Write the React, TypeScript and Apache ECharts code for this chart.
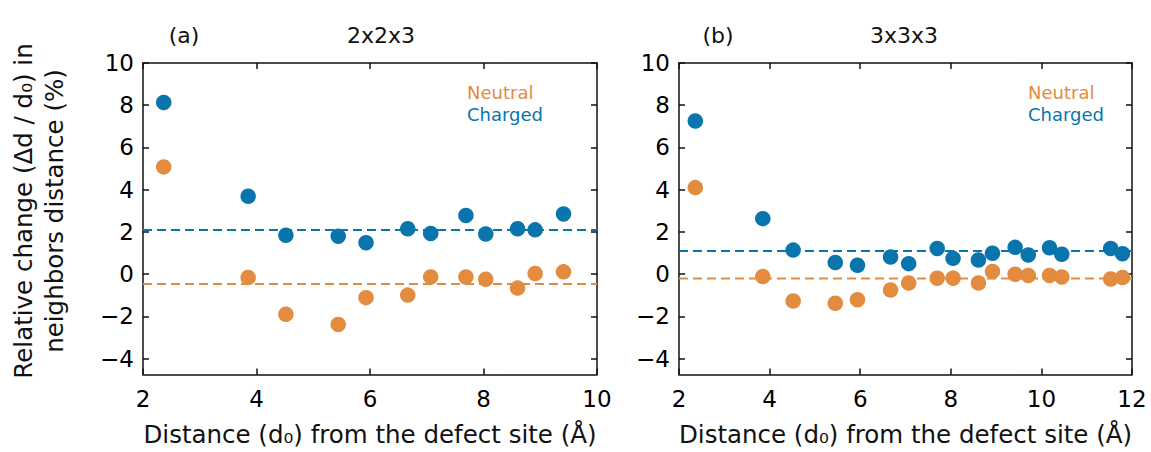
import { useEffect, useRef } from "react";
import * as echarts from "echarts";

// Panel (a): 2x2x3
const distA = [2.365, 3.853, 4.518, 5.44, 5.93, 6.665, 7.07, 7.69, 8.04, 8.6, 8.91, 9.41];
const chargedA = [8.13, 3.69, 1.84, 1.8, 1.49, 2.15, 1.93, 2.78, 1.9, 2.15, 2.1, 2.85];
const neutralA = [5.08, -0.16, -1.9, -2.38, -1.11, -0.99, -0.13, -0.13, -0.24, -0.66, 0.03, 0.11];
const chargedMeanA = 2.09;
const neutralMeanA = -0.47;

// Panel (b): 3x3x3
const distB = [2.36, 3.85, 4.52, 5.45, 5.94, 6.67, 7.07, 7.7, 8.05, 8.61, 8.92, 9.42, 9.71, 10.18, 10.45, 11.53, 11.79];
const chargedB = [7.25, 2.63, 1.14, 0.55, 0.42, 0.81, 0.5, 1.22, 0.75, 0.67, 0.99, 1.27, 0.91, 1.25, 0.94, 1.22, 0.97];
const neutralB = [4.1, -0.11, -1.27, -1.38, -1.21, -0.75, -0.42, -0.19, -0.19, -0.42, 0.13, 0.0, -0.06, -0.06, -0.13, -0.23, -0.16];
const chargedMeanB = 1.1;
const neutralMeanB = -0.2;

const yTicks = [-4, -2, 0, 2, 4, 6, 8, 10];
const xRangeA = [2, 10];
const xRangeB = [2, 12];
const yRange = [-4.75, 10];

const panelTitles = ["(a)", "(b)"];
const sizeTitles = ["2x2x3", "3x3x3"];
const seriesNames = ["Neutral", "Charged"];
const xAxisTitle = "Distance (d\u2080) from the defect site (Å)";
const yAxisTitle = "Relative change (Δd / d\u2080) in\nneighbors distance (%)";

const BLUE = "#0a75ad";
const ORANGE = "#e38b3f";
const INK = "#111";
const FONT = "DejaVu Sans";

const fmtY = (v: number) => (v < 0 ? "\u2212" + Math.abs(v) : String(v));

function App() {
  const ref = useRef<HTMLDivElement>(null);

  useEffect(() => {
    const chart = echarts.init(ref.current!, null, { renderer: "svg" });

    const grids = [
      { left: 143, top: 63, width: 454, height: 313 },
      { left: 679, top: 63, width: 453, height: 314 },
    ];
    const xr = [xRangeA, xRangeB];

    const axisLine = { show: true, onZero: false, lineStyle: { color: INK, width: 1.5 } };
    const axisTick = { show: true, inside: true, length: 6, lineStyle: { color: INK, width: 1.5 } };

    const xAxis: any[] = [];
    const yAxis: any[] = [];
    [0, 1].forEach((g) => {
      xAxis.push({
        type: "value",
        gridIndex: g,
        position: "bottom",
        min: xr[g][0],
        max: xr[g][1],
        interval: 2,
        axisLine,
        axisTick,
        splitLine: { show: false },
        axisLabel: { fontSize: 23, fontFamily: FONT, color: "#000", margin: 13 },
        name: xAxisTitle,
        nameLocation: "middle",
        nameGap: 60,
        nameTextStyle: { fontSize: 24.5, fontFamily: FONT, color: INK, verticalAlign: "middle" },
      });
      xAxis.push({
        type: "value",
        gridIndex: g,
        position: "top",
        min: xr[g][0],
        max: xr[g][1],
        interval: 2,
        axisLine,
        axisTick,
        splitLine: { show: false },
        axisLabel: { show: false },
      });
      yAxis.push({
        type: "value",
        gridIndex: g,
        position: "left",
        min: yRange[0],
        max: yRange[1],
        axisLine,
        axisTick: { ...axisTick, customValues: yTicks },
        splitLine: { show: false },
        axisLabel: {
          fontSize: 23,
          fontFamily: FONT,
          color: "#000",
          margin: 9,
          customValues: yTicks,
          formatter: fmtY,
        },
      });
      yAxis.push({
        type: "value",
        gridIndex: g,
        position: "right",
        min: yRange[0],
        max: yRange[1],
        axisLine,
        axisTick: { ...axisTick, customValues: yTicks },
        splitLine: { show: false },
        axisLabel: { show: false },
      });
    });

    const panels = [
      { dist: distA, charged: chargedA, neutral: neutralA, cm: chargedMeanA, nm: neutralMeanA },
      { dist: distB, charged: chargedB, neutral: neutralB, cm: chargedMeanB, nm: neutralMeanB },
    ];

    const series: any[] = [];
    panels.forEach((p, g) => {
      const xi = g * 2;
      const yi = g * 2;
      series.push({
        type: "line",
        name: "Neutral mean",
        xAxisIndex: xi,
        yAxisIndex: yi,
        data: [[xr[g][0], p.nm], [xr[g][1], p.nm]],
        symbol: "none",
        lineStyle: { color: ORANGE, width: 2, type: [9, 5] },
        z: 1,
        silent: true,
      });
      series.push({
        type: "line",
        name: "Charged mean",
        xAxisIndex: xi,
        yAxisIndex: yi,
        data: [[xr[g][0], p.cm], [xr[g][1], p.cm]],
        symbol: "none",
        lineStyle: { color: BLUE, width: 2, type: [9, 5] },
        z: 1,
        silent: true,
      });
      series.push({
        type: "scatter",
        name: seriesNames[0],
        xAxisIndex: xi,
        yAxisIndex: yi,
        data: p.dist.map((d, i) => [d, p.neutral[i]]),
        symbol: "circle",
        symbolSize: 15.5,
        itemStyle: { color: ORANGE, opacity: 1 },
        z: 3,
      });
      series.push({
        type: "scatter",
        name: seriesNames[1],
        xAxisIndex: xi,
        yAxisIndex: yi,
        data: p.dist.map((d, i) => [d, p.charged[i]]),
        symbol: "circle",
        symbolSize: 15.5,
        itemStyle: { color: BLUE, opacity: 1 },
        z: 3,
      });
    });

    const txt = (text: string, x: number, y: number, opts: any = {}) => ({
      type: "text",
      x,
      y,
      rotation: opts.rotation || 0,
      style: {
        text,
        fontSize: opts.fontSize || 22,
        fontFamily: FONT,
        fill: opts.fill || INK,
        align: opts.align || "center",
        verticalAlign: "middle",
        textAlign: opts.align || "center",
        textVerticalAlign: "middle",
        lineHeight: opts.lineHeight,
      },
    });

    const graphic = [
      txt(panelTitles[0], 184, 35),
      txt(sizeTitles[0], 381, 35),
      txt(panelTitles[1], 718, 35),
      txt(sizeTitles[1], 904, 35),
      txt(seriesNames[0], 467, 92, { fontSize: 18, fill: ORANGE, align: "left" }),
      txt(seriesNames[1], 467, 114.5, { fontSize: 18, fill: BLUE, align: "left" }),
      txt(seriesNames[0], 1028, 92, { fontSize: 18, fill: ORANGE, align: "left" }),
      txt(seriesNames[1], 1028, 114.5, { fontSize: 18, fill: BLUE, align: "left" }),
      txt(yAxisTitle, 39, 211, { fontSize: 24.5, rotation: Math.PI / 2, lineHeight: 31 }),
    ];

    chart.setOption({
      animation: false,
      backgroundColor: "#fff",
      textStyle: { fontFamily: FONT },
      grid: grids,
      xAxis,
      yAxis,
      series,
      graphic,
    });

    return () => chart.dispose();
  }, []);

  return (
    <div
      ref={ref}
      style={{ position: "absolute", left: 0, top: 0, width: 1151, height: 452 }}
    />
  );
}

export default App;
